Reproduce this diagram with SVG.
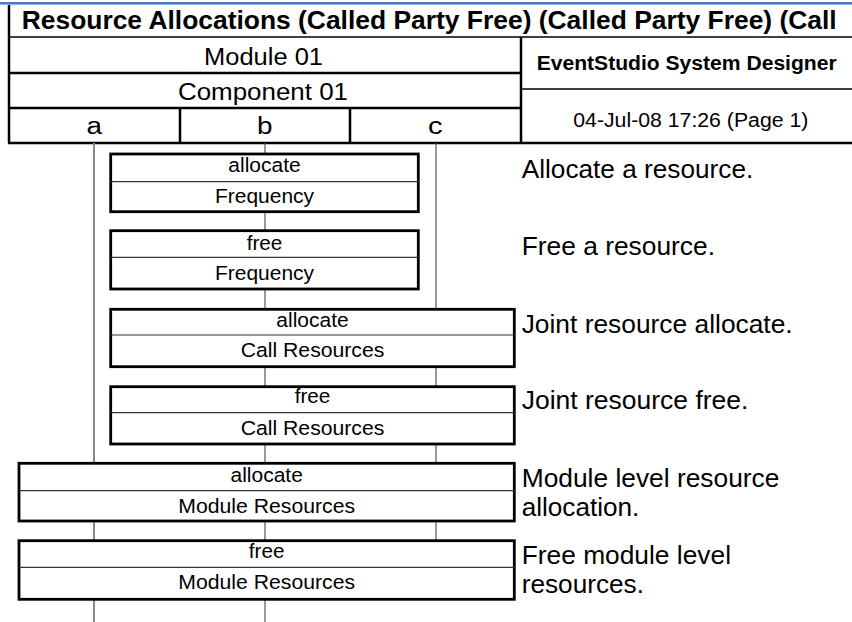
<svg xmlns="http://www.w3.org/2000/svg" width="852" height="622" viewBox="0 0 852 622">
<style>
text{font-family:"Liberation Sans",Arial,sans-serif;fill:#000}
.hl{stroke:#000;stroke-width:2.5;fill:none}
.ht{stroke:#000;stroke-width:1.5;fill:none}
.box{fill:#fff;stroke:#000;stroke-width:2.8}
.div{stroke:#333;stroke-width:1.2}
.bt{font-size:20.5px;text-anchor:middle}
.ds{font-size:25.5px}
.ll{stroke:#555;stroke-width:1.2;fill:none}
.lla{stroke:#888;stroke-width:2;fill:none}
</style>
<rect x="0" y="0" width="852" height="622" fill="#fff"/>
<rect x="0" y="2" width="852" height="2.6" fill="#4a7ebb"/>
<g id="header">
<line class="hl" x1="9" y1="5" x2="9" y2="143"/>
<line class="ht" x1="8" y1="37" x2="852" y2="37"/>
<line class="hl" x1="8" y1="73" x2="521" y2="73"/>
<line class="hl" x1="8" y1="108" x2="521" y2="108"/>
<line class="hl" x1="8" y1="143" x2="852" y2="143"/>
<line class="hl" x1="521" y1="37" x2="521" y2="143"/>
<line class="ht" x1="521" y1="89" x2="852" y2="89"/>
<line class="hl" x1="180" y1="108" x2="180" y2="143"/>
<line class="hl" x1="350" y1="108" x2="350" y2="143"/>
<text x="21.7" y="29" font-size="25" font-weight="bold" textLength="815" lengthAdjust="spacingAndGlyphs">Resource Allocations (Called Party Free) (Called Party Free) (Call</text>
<text x="204" y="65" font-size="23.5" textLength="119" lengthAdjust="spacingAndGlyphs">Module 01</text>
<text x="178" y="100" font-size="23.5" textLength="170" lengthAdjust="spacingAndGlyphs">Component 01</text>
<text x="86.5" y="133.5" font-size="23.5" textLength="15.5" lengthAdjust="spacingAndGlyphs">a</text>
<text x="257" y="133.5" font-size="23.5" textLength="15.5" lengthAdjust="spacingAndGlyphs">b</text>
<text x="428" y="133.5" font-size="23.5" textLength="14.5" lengthAdjust="spacingAndGlyphs">c</text>
<text x="536.7" y="70" font-size="20" font-weight="bold" textLength="300" lengthAdjust="spacingAndGlyphs">EventStudio System Designer</text>
<text x="573.3" y="126.7" font-size="20" textLength="235" lengthAdjust="spacingAndGlyphs">04-Jul-08 17:26 (Page 1)</text>
</g>
<g id="connectors">
<line class="lla" x1="94" y1="143" x2="94" y2="622"/>
<line class="ll" x1="265" y1="143" x2="265" y2="622"/>
<line class="ll" x1="436" y1="143" x2="436" y2="541"/>
</g>
<g id="box1">
<rect class="box" x="110.7" y="154" width="307.6" height="57.7"/>
<line class="div" x1="110.7" y1="181.7" x2="418.3" y2="181.7"/>
<text class="bt" x="264.5" y="171.7" textLength="72.3" lengthAdjust="spacingAndGlyphs">allocate</text>
<text class="bt" x="264.5" y="203.3" textLength="99" lengthAdjust="spacingAndGlyphs">Frequency</text>
</g>
<g id="box2">
<rect class="box" x="110.7" y="230.7" width="307.6" height="58.3"/>
<line class="div" x1="110.7" y1="257.3" x2="418.3" y2="257.3"/>
<text class="bt" x="264.5" y="250" textLength="35.7" lengthAdjust="spacingAndGlyphs">free</text>
<text class="bt" x="264.5" y="280" textLength="99" lengthAdjust="spacingAndGlyphs">Frequency</text>
</g>
<g id="box3">
<rect class="box" x="110.7" y="309.3" width="403.6" height="57.4"/>
<line class="div" x1="110.7" y1="335" x2="514.3" y2="335"/>
<text class="bt" x="312.5" y="326.7" textLength="72.3" lengthAdjust="spacingAndGlyphs">allocate</text>
<text class="bt" x="312.5" y="357.3" textLength="143.7" lengthAdjust="spacingAndGlyphs">Call Resources</text>
</g>
<g id="box4">
<rect class="box" x="110.7" y="386.7" width="403.6" height="57.3"/>
<line class="div" x1="110.7" y1="412.7" x2="514.3" y2="412.7"/>
<text class="bt" x="312.5" y="402.7" textLength="35.7" lengthAdjust="spacingAndGlyphs">free</text>
<text class="bt" x="312.5" y="435" textLength="143.7" lengthAdjust="spacingAndGlyphs">Call Resources</text>
</g>
<g id="box5">
<rect class="box" x="19" y="463.3" width="495.3" height="57.7"/>
<line class="div" x1="19" y1="490.7" x2="514.3" y2="490.7"/>
<text class="bt" x="266.7" y="481.7" textLength="72.3" lengthAdjust="spacingAndGlyphs">allocate</text>
<text class="bt" x="266.7" y="512.7" textLength="176.7" lengthAdjust="spacingAndGlyphs">Module Resources</text>
</g>
<g id="box6">
<rect class="box" x="19" y="540.7" width="495.3" height="58.6"/>
<line class="div" x1="19" y1="567.3" x2="514.3" y2="567.3"/>
<text class="bt" x="266.7" y="558.3" textLength="35.7" lengthAdjust="spacingAndGlyphs">free</text>
<text class="bt" x="266.7" y="589.3" textLength="176.7" lengthAdjust="spacingAndGlyphs">Module Resources</text>
</g>
<g id="remarks">
<text class="ds" x="521.7" y="178.3" textLength="231.6" lengthAdjust="spacingAndGlyphs">Allocate a resource.</text>
<text class="ds" x="521.7" y="255" textLength="193.3" lengthAdjust="spacingAndGlyphs">Free a resource.</text>
<text class="ds" x="521.7" y="332.7" textLength="271" lengthAdjust="spacingAndGlyphs">Joint resource allocate.</text>
<text class="ds" x="521.7" y="409.3" textLength="226.7" lengthAdjust="spacingAndGlyphs">Joint resource free.</text>
<text class="ds" x="521.7" y="486.7" textLength="257.7" lengthAdjust="spacingAndGlyphs">Module level resource</text>
<text class="ds" x="521.7" y="516" textLength="117.7" lengthAdjust="spacingAndGlyphs">allocation.</text>
<text class="ds" x="521.7" y="564" textLength="209.3" lengthAdjust="spacingAndGlyphs">Free module level</text>
<text class="ds" x="521.7" y="593.3" textLength="122.3" lengthAdjust="spacingAndGlyphs">resources.</text>
</g>
</svg>
